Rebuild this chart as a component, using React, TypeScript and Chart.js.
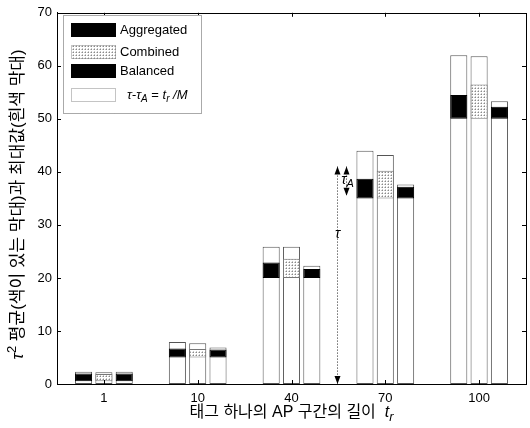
import React, { useEffect, useRef } from 'react';
import { Chart, registerables } from 'chart.js';

Chart.register(...registerables);

const FONT = '"Liberation Sans", Arial, "Noto Sans CJK KR", sans-serif';

// categories (t_r)
const categories = ['1', '10', '40', '70', '100'];
const seriesNames = ['Aggregated', 'Combined', 'Balanced'];

// maximum of tau^2 (white bars)
const aggregatedMax = [2.3, 7.9, 25.9, 44.0, 62.0];
const combinedMax = [2.2, 7.7, 25.9, 43.2, 61.8];
const balancedMax = [2.3, 6.9, 22.3, 37.6, 53.3];

// lower end of coloured bars
const aggregatedLow = [0.5, 5, 20, 35, 50];
const combinedLow = [0.5, 5, 20, 35, 50];
const balancedLow = [0.5, 5, 20, 35, 50];

// mean of tau^2 (top of coloured bars)
const aggregatedMean = [2.0, 6.7, 22.9, 38.7, 54.5];
const combinedMean = [1.9, 6.6, 23.6, 40.2, 56.5];
const balancedMean = [2.0, 6.5, 21.7, 37.2, 52.3];

const yTicks = [0, 10, 20, 30, 40, 50, 60, 70];

// annotation arrows (x as category index, y in data units)
const tauArrow = { xIndex: 2.49, from: 0, to: 41, labelAt: 28.3 };
const tauAArrow = { xIndex: 2.585, from: 41, to: 35.5, labelAt: 38.5 };

type Run = { t: string; italic?: boolean; shift?: number; scale?: number };

function drawRuns(ctx: CanvasRenderingContext2D, runs: Run[], x: number, y: number, size: number, align: 'center' | 'left') {
  const fontFor = (r: Run) => `${r.italic ? 'italic ' : ''}${Math.round(size * (r.scale || 1))}px ${FONT}`;
  let total = 0;
  runs.forEach((r) => {
    ctx.font = fontFor(r);
    total += ctx.measureText(r.t).width;
  });
  let cx = align === 'center' ? x - total / 2 : x;
  ctx.textBaseline = 'middle';
  ctx.textAlign = 'left';
  runs.forEach((r) => {
    ctx.font = fontFor(r);
    ctx.fillText(r.t, cx, y + (r.shift || 0));
    cx += ctx.measureText(r.t).width;
  });
}

function arrowHead(ctx: CanvasRenderingContext2D, x: number, y: number, dir: number) {
  ctx.beginPath();
  ctx.moveTo(x, y);
  ctx.lineTo(x - 3, y + dir * 8);
  ctx.lineTo(x + 3, y + dir * 8);
  ctx.closePath();
  ctx.fill();
}

function makePattern(): CanvasPattern | string {
  const c = document.createElement('canvas');
  c.width = 3;
  c.height = 3;
  const g = c.getContext('2d');
  if (!g) return '#ddd';
  g.fillStyle = '#ffffff';
  g.fillRect(0, 0, 3, 3);
  g.fillStyle = '#8a8a8a';
  g.fillRect(1, 1, 1, 1);
  g.fillStyle = '#c8c8c8';
  g.fillRect(0, 1, 1, 1);
  g.fillRect(1, 0, 1, 1);
  const p = g.createPattern(c, 'repeat');
  return p || '#ddd';
}

export default function App() {
  const ref = useRef<HTMLCanvasElement | null>(null);

  useEffect(() => {
    if (!ref.current) return;
    const dotted = makePattern();
    const colors = ['#000000', dotted, '#000000'];
    const borders = ['#000000', '#777777', '#000000'];
    const maxes = [aggregatedMax, combinedMax, balancedMax];
    const lows = [aggregatedLow, combinedLow, balancedLow];
    const means = [aggregatedMean, combinedMean, balancedMean];

    const colored = seriesNames.map((name, i) => ({
      label: name,
      data: means[i].map((m, j) => [lows[i][j], m]),
      backgroundColor: colors[i],
      borderColor: borders[i],
      borderWidth: 1,
      borderSkipped: false,
      stack: 's' + i,
      order: 0,
      barPercentage: 0.84,
      categoryPercentage: 0.65,
    }));
    const white = seriesNames.map((name, i) => ({
      label: name + ' max',
      data: maxes[i].map((m) => [0, m]),
      backgroundColor: '#ffffff',
      borderColor: '#555555',
      borderWidth: 1,
      borderSkipped: false,
      stack: 's' + i,
      order: 1,
      barPercentage: 0.84,
      categoryPercentage: 0.65,
    }));

    const overlay = {
      id: 'overlay',
      afterDraw(chart: any) {
        const ctx: CanvasRenderingContext2D = chart.ctx;
        const a = chart.chartArea;
        const xs = chart.scales.x;
        const ys = chart.scales.y;
        ctx.save();
        // frame
        ctx.strokeStyle = '#000';
        ctx.lineWidth = 1;
        ctx.strokeRect(Math.round(a.left) + 0.5, Math.round(a.top) + 0.5, Math.round(a.right - a.left), Math.round(a.bottom - a.top));
        // inward ticks
        yTicks.forEach((v) => {
          const py = Math.round(ys.getPixelForValue(v)) + 0.5;
          ctx.beginPath();
          ctx.moveTo(a.left, py);
          ctx.lineTo(a.left + 4, py);
          ctx.moveTo(a.right, py);
          ctx.lineTo(a.right - 4, py);
          ctx.stroke();
        });
        categories.forEach((_, i) => {
          const px = Math.round(xs.getPixelForValue(i)) + 0.5;
          ctx.beginPath();
          ctx.moveTo(px, a.bottom);
          ctx.lineTo(px, a.bottom - 4);
          ctx.moveTo(px, a.top);
          ctx.lineTo(px, a.top + 4);
          ctx.stroke();
        });

        // arrows
        const xAt = (idx: number) => {
          const i0 = Math.floor(idx);
          const p0 = xs.getPixelForValue(i0);
          const p1 = xs.getPixelForValue(i0 + 1);
          return p0 + (idx - i0) * (p1 - p0);
        };
        ctx.fillStyle = '#000';
        ctx.strokeStyle = '#222';
        ctx.setLineDash([1, 2]);
        const tx = Math.round(xAt(tauArrow.xIndex)) + 0.5;
        const tTop = ys.getPixelForValue(tauArrow.to);
        const tBot = ys.getPixelForValue(tauArrow.from);
        ctx.beginPath();
        ctx.moveTo(tx, tTop);
        ctx.lineTo(tx, tBot);
        ctx.stroke();
        const ax = Math.round(xAt(tauAArrow.xIndex)) + 0.5;
        const aTop = ys.getPixelForValue(tauAArrow.from);
        const aBot = ys.getPixelForValue(tauAArrow.to);
        ctx.beginPath();
        ctx.moveTo(ax, aTop);
        ctx.lineTo(ax, aBot);
        ctx.stroke();
        ctx.setLineDash([]);
        arrowHead(ctx, tx, tTop, 1);
        arrowHead(ctx, tx, tBot, -1);
        arrowHead(ctx, ax, aTop, 1);
        arrowHead(ctx, ax, aBot, -1);
        drawRuns(ctx, [{ t: 'τ', italic: true }], tx, ys.getPixelForValue(tauArrow.labelAt), 14, 'center');
        drawRuns(ctx, [{ t: 'τ', italic: true }, { t: 'A', italic: true, shift: 4, scale: 0.8 }], ax + 1, ys.getPixelForValue(tauAArrow.labelAt), 14, 'center');

        // legend
        const lx = 63, ly = 15, lw = 138, lh = 98;
        ctx.fillStyle = '#fff';
        ctx.fillRect(lx, ly, lw, lh);
        ctx.strokeStyle = '#555';
        ctx.setLineDash([1, 1]);
        ctx.strokeRect(lx + 0.5, ly + 0.5, lw, lh);
        ctx.setLineDash([]);
        const rows = [23, 45, 64, 88];
        const swFill = ['#000', dotted, '#000', '#fff'];
        const swBorder = ['#000', '#888', '#000', '#888'];
        rows.forEach((ry, i) => {
          ctx.fillStyle = swFill[i] as any;
          ctx.fillRect(71, ry, 45, 14);
          ctx.strokeStyle = swBorder[i];
          if (i === 3 || i === 1) ctx.setLineDash([1, 1]);
          ctx.strokeRect(71.5, ry + 0.5, 44, 13);
          ctx.setLineDash([]);
          ctx.fillStyle = '#000';
          if (i < 3) {
            drawRuns(ctx, [{ t: seriesNames[i] }], 120, ry + 7, 13, 'left');
          } else {
            drawRuns(
              ctx,
              [
                { t: 'τ-τ', italic: true },
                { t: 'A', italic: true, shift: 4, scale: 0.8 },
                { t: ' = ' },
                { t: 't', italic: true },
                { t: 'r', italic: true, shift: 4, scale: 0.8 },
                { t: ' /M', italic: true },
              ],
              127,
              ry + 7,
              13,
              'left'
            );
          }
        });

        // axis titles
        ctx.fillStyle = '#000';
        drawRuns(
          ctx,
          [{ t: '태그 하나의 AP 구간의 길이  ' }, { t: 't', italic: true }, { t: 'r', italic: true, shift: 4, scale: 0.8 }],
          (a.left + a.right) / 2,
          413,
          16,
          'center'
        );
        ctx.translate(18, (a.top + a.bottom) / 2 + 6);
        ctx.rotate(-Math.PI / 2);
        drawRuns(
          ctx,
          [{ t: 'τ', italic: true }, { t: '2', shift: -6, scale: 0.75 }, { t: ' 평균(색이 있는 막대)과 최대값(흰색 막대)' }],
          0,
          0,
          17,
          'center'
        );
        ctx.restore();
      },
    };

    const chart = new Chart(ref.current, {
      type: 'bar',
      data: { labels: categories, datasets: [...colored, ...white] as any },
      options: {
        animation: false,
        responsive: false,
        events: [],
        layout: { padding: { left: 0, top: 11, right: 4, bottom: 0 } },
        plugins: { legend: { display: false }, tooltip: { enabled: false } },
        scales: {
          x: {
            type: 'category',
            offset: true,
            grid: { display: false, drawTicks: false },
            border: { display: true, color: '#000' },
            ticks: { color: '#000', padding: 7, font: { family: FONT, size: 13 } },
            afterFit: (s: any) => {
              s.height = 44;
            },
          },
          y: {
            min: 0,
            max: 70,
            stacked: false,
            grid: { display: false, drawTicks: false },
            border: { display: true, color: '#000' },
            ticks: { stepSize: 10, color: '#000', padding: 5, font: { family: FONT, size: 13 } },
            afterFit: (s: any) => {
              s.width = 57;
            },
          },
        },
      } as any,
      plugins: [overlay],
    });
    return () => chart.destroy();
  }, []);

  return (
    <div style={{ position: 'fixed', left: 0, top: 0, width: 530, height: 428, background: '#fff' }}>
      <canvas ref={ref} width={530} height={428} style={{ display: 'block' }} />
    </div>
  );
}
